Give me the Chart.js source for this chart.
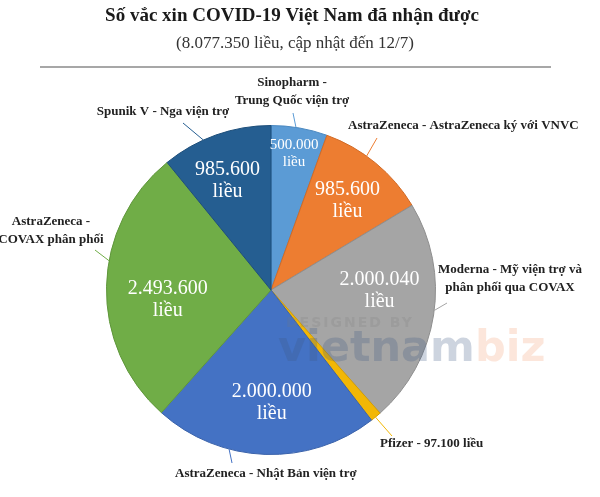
<!DOCTYPE html>
<html>
<head>
<meta charset="utf-8">
<script src="https://cdn.jsdelivr.net/npm/chart.js@4.4.1/dist/chart.umd.min.js"></script>
<style>
    html, body { margin: 0; padding: 0; background: #fff; }
</style>
</head>
<body>
<canvas id="vaccineCanvas" width="600" height="497"></canvas>
<script>
// data, clockwise from 12 o'clock
const sources = [
    ['Sinopharm -', 'Trung Quốc viện trợ'],
    ['AstraZeneca - AstraZeneca ký với VNVC'],
    ['Moderna - Mỹ viện trợ và', 'phân phối qua COVAX'],
    ['Pfizer - 97.100 liều'],
    ['AstraZeneca - Nhật Bản viện trợ'],
    ['AstraZeneca -', 'COVAX phân phối'],
    ['Spunik V - Nga viện trợ']
];
const doses = [500000, 985600, 2000040, 97100, 2000000, 2493600, 985600];
const showInside = [true, true, true, false, true, true, true];

const titleText = 'Số vắc xin COVID-19 Việt Nam đã nhận được';
const subtitleText = '(8.077.350 liều, cập nhật đến 12/7)';

const sliceColors = ['#5b9bd5', '#ed7d31', '#a5a5a5', '#f2b705', '#4472c4', '#70ad47', '#255e91'];
const edgeColors = ['#4a88c0', '#d06a26', '#8e8e8e', '#d59f00', '#3a62aa', '#5f963b', '#1d4e7a'];

// label placement (layout only): [fraction along slice, fraction of radius]
const insideAt = [[0.48, 0.845], [0.52, 0.72], [0.39, 0.66], null, [0.47, 0.68], [0.44, 0.63], [0.45, 0.72]];
const insideSize = [15, 20, 20, 0, 20, 20, 20];
const leaderAt = [0.44, 0.40, 0.48, 0.55, 0.66, 0.59, 0.38];
const leaderEnd = [[293, 113], [377, 138], [447, 303], [392, 436], [232, 463], [95, 250], [183, 123]];
const outsideText = [
    { x: 292, y: 83, align: 'center' },
    { x: 348, y: 126, align: 'left' },
    { x: 510, y: 270, align: 'center' },
    { x: 380, y: 444, align: 'left' },
    { x: 175, y: 474, align: 'left' },
    { x: 51, y: 222, align: 'center' },
    { x: 163, y: 112, align: 'center' }
];

const serif = '"Liberation Serif", "DejaVu Serif", serif';

function formatDose(n) {
    return n.toString().replace(/\B(?=(\d{3})+(?!\d))/g, '.');
}

const labelPlugin = {
    id: 'vaccineLabels',
    afterDraw(chart) {
        const ctx = chart.ctx;
        ctx.save();

        // heading
        ctx.fillStyle = '#1a1a1a';
        ctx.textAlign = 'center';
        ctx.textBaseline = 'middle';
        ctx.font = 'bold 19px ' + serif;
        ctx.fillText(titleText, 292, 16);
        ctx.fillStyle = '#333';
        ctx.font = '17px ' + serif;
        ctx.fillText(subtitleText, 295, 44);
        ctx.strokeStyle = '#8a8a8a';
        ctx.lineWidth = 1.5;
        ctx.beginPath();
        ctx.moveTo(40, 67);
        ctx.lineTo(551, 67);
        ctx.stroke();

        // watermark
        ctx.textAlign = 'left';
        ctx.letterSpacing = '2px';
        ctx.font = 'bold 14px "DejaVu Sans", sans-serif';
        ctx.fillStyle = 'rgba(120, 120, 120, 0.2)';
        ctx.fillText('DESIGNED BY', 286, 323);
        ctx.letterSpacing = '0px';
        ctx.font = 'bold 43px "DejaVu Sans", sans-serif';
        ctx.fillStyle = 'rgba(60, 90, 130, 0.26)';
        ctx.fillText('vietnam', 278, 350);
        const w = ctx.measureText('vietnam').width;
        ctx.fillStyle = 'rgba(240, 140, 90, 0.22)';
        ctx.fillText('biz', 278 + w, 350);

        const arcs = chart.getDatasetMeta(0).data;
        arcs.forEach((arc, i) => {
            const p = arc.getProps(['x', 'y', 'startAngle', 'endAngle', 'outerRadius'], true);

            // value inside the slice
            if (showInside[i]) {
                const a = p.startAngle + insideAt[i][0] * (p.endAngle - p.startAngle);
                const r = insideAt[i][1] * p.outerRadius;
                const cx = p.x + Math.cos(a) * r;
                const cy = p.y + Math.sin(a) * r;
                const size = insideSize[i];
                ctx.fillStyle = '#fff';
                ctx.textAlign = 'center';
                ctx.font = size + 'px ' + serif;
                ctx.fillText(formatDose(doses[i]), cx, cy - size * 0.5);
                ctx.fillText('liều', cx, cy + size * 0.6);
            }

            // leader line
            const la = p.startAngle + leaderAt[i] * (p.endAngle - p.startAngle);
            ctx.strokeStyle = sliceColors[i];
            ctx.lineWidth = 1;
            ctx.beginPath();
            ctx.moveTo(p.x + Math.cos(la) * p.outerRadius, p.y + Math.sin(la) * p.outerRadius);
            ctx.lineTo(leaderEnd[i][0], leaderEnd[i][1]);
            ctx.stroke();

            // source name
            const t = outsideText[i];
            ctx.fillStyle = '#222';
            ctx.textAlign = t.align;
            ctx.font = 'bold 13px ' + serif;
            sources[i].forEach((line, k) => {
                ctx.fillText(line, t.x, t.y + k * 18);
            });
        });

        ctx.restore();
    }
};

const ctx = document.getElementById('vaccineCanvas').getContext('2d');

new Chart(ctx, {
    type: 'pie',
    data: {
        labels: sources.map(s => s.join(' ')),
        datasets: [{
            data: doses,
            backgroundColor: sliceColors,
            borderColor: edgeColors,
            borderWidth: 1
        }]
    },
    options: {
        responsive: false,
        animation: false,
        layout: {
            padding: { top: 125, bottom: 42, left: 106, right: 164 }
        },
        plugins: {
            legend: { display: false },
            tooltip: { enabled: false }
        }
    },
    plugins: [labelPlugin]
});
</script>
</body>
</html>
